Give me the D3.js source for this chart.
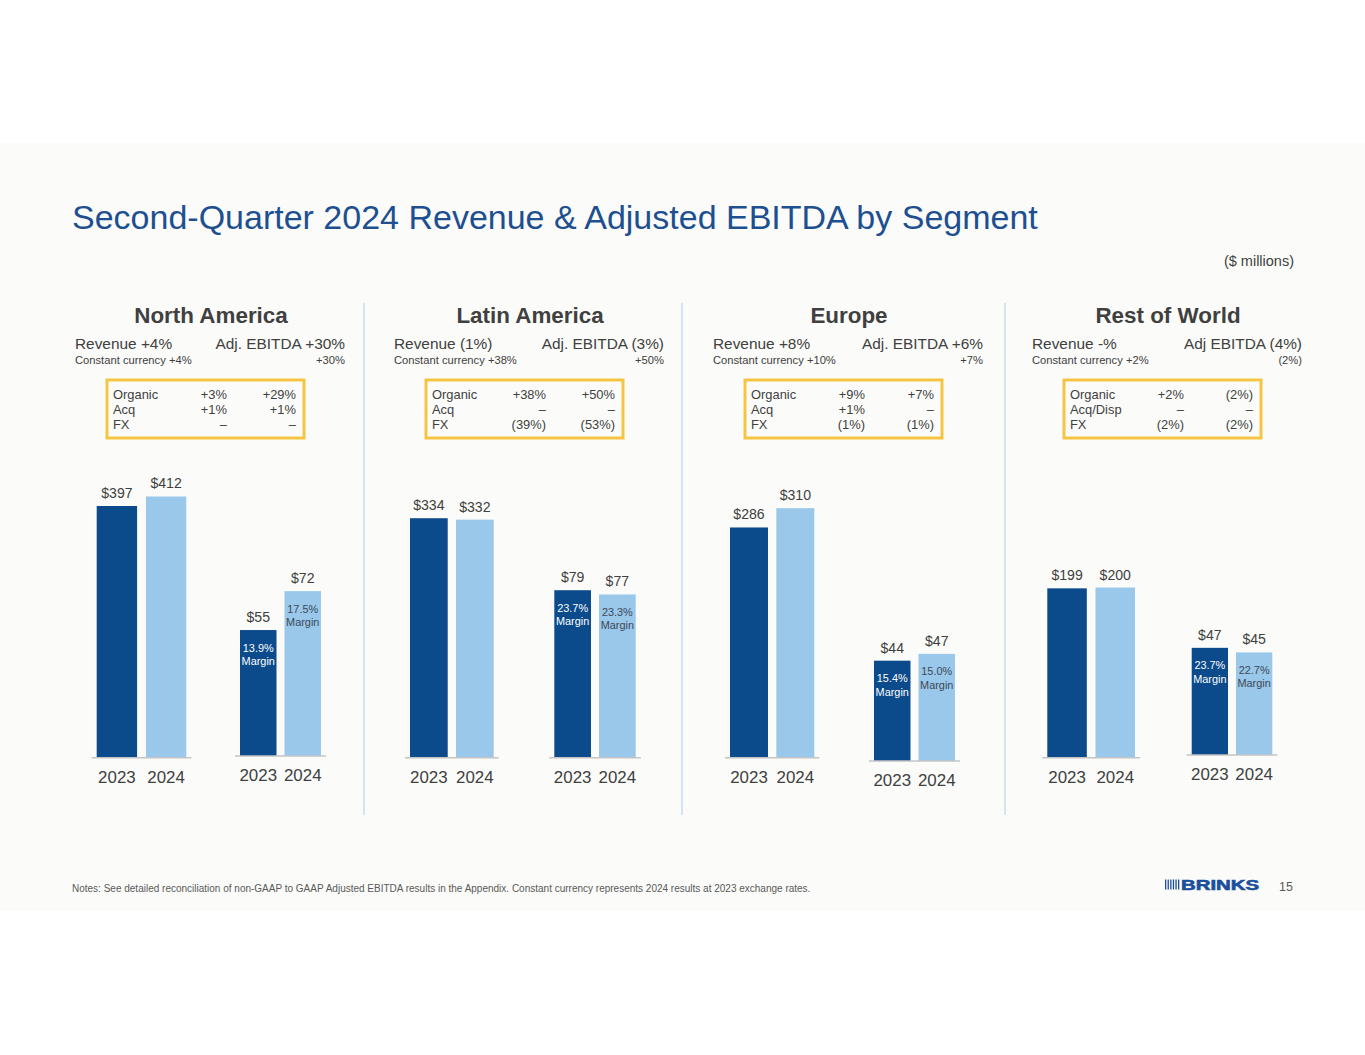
<!DOCTYPE html>
<html>
<head>
<meta charset="utf-8">
<script src="https://cdn.jsdelivr.net/npm/d3@7"></script>
<style>
  body { margin: 0; background: #ffffff; }
  svg, svg text { font-family: Arial, "Liberation Sans", Helvetica, sans-serif; }
  svg { display: block; }
</style>
</head>
<body>
<svg width="1365" height="1055"></svg>
<script>
'use strict';

// ---- data ----
var segments = ['North America', 'Latin America', 'Europe', 'Rest of World'];
var revenueHeads = ['Revenue +4%', 'Revenue (1%)', 'Revenue +8%', 'Revenue -%'];
var ebitdaHeads = ['Adj. EBITDA +30%', 'Adj. EBITDA (3%)', 'Adj. EBITDA +6%', 'Adj EBITDA (4%)'];
var ccRevenue = ['Constant currency +4%', 'Constant currency +38%', 'Constant currency +10%', 'Constant currency +2%'];
var ccEbitda = ['+30%', '+50%', '+7%', '(2%)'];
var bridgeLabels = [['Organic', 'Acq', 'FX'], ['Organic', 'Acq', 'FX'], ['Organic', 'Acq', 'FX'], ['Organic', 'Acq/Disp', 'FX']];
var bridgeRevenue = [['+3%', '+1%', '–'], ['+38%', '–', '(39%)'], ['+9%', '+1%', '(1%)'], ['+2%', '–', '(2%)']];
var bridgeEbitda = [['+29%', '+1%', '–'], ['+50%', '–', '(53%)'], ['+7%', '–', '(1%)'], ['(2%)', '–', '(2%)']];
var years = ['2023', '2024'];
var revenue = [[397, 412], [334, 332], [286, 310], [199, 200]];
var ebitda = [[55, 72], [79, 77], [44, 47], [47, 45]];
var margins = [['13.9%', '17.5%'], ['23.7%', '23.3%'], ['15.4%', '15.0%'], ['23.7%', '22.7%']];

// ---- layout ----
var DARK = '#0b4a8b', LIGHT = '#99c8ea', TEXT = '#404040';
var FONT = 'Arial, "Liberation Sans", Helvetica, sans-serif';
var panelLeft = [75, 394, 713, 1032];
var dividerX = [364, 682, 1005];
// each mini chart: x range of bars, baseline, pixels per $1m
var revLayout = [
    { x0: 96.7, x1: 186.3, base: 757.7, ppu: 0.634 },
    { x0: 410, x1: 493.7, base: 757.7, ppu: 0.717 },
    { x0: 730, x1: 814.3, base: 757.7, ppu: 0.805 },
    { x0: 1047.3, x1: 1135, base: 757.7, ppu: 0.851 }
];
var ebLayout = [
    { x0: 240, x1: 321, base: 756, ppu: 2.29 },
    { x0: 554.3, x1: 635.7, base: 757.7, ppu: 2.12 },
    { x0: 874, x1: 955, base: 761, ppu: 2.28 },
    { x0: 1191.7, x1: 1272.3, base: 755, ppu: 2.28 }
];

var canvas = d3.select('svg').attr('font-family', FONT);

canvas.append('rect')
    .attr('x', 0).attr('y', 143)
    .attr('width', 1365).attr('height', 768)
    .attr('fill', '#fbfcf9');

canvas.append('text')
    .attr('x', 72).attr('y', 229)
    .attr('font-size', 34)
    .attr('fill', '#1d4f91')
    .text('Second-Quarter 2024 Revenue & Adjusted EBITDA by Segment');

canvas.append('text')
    .attr('x', 1294).attr('y', 266)
    .attr('text-anchor', 'end')
    .attr('font-size', 14.5)
    .attr('fill', TEXT)
    .text('($ millions)');

canvas.selectAll('line.divider')
    .data(dividerX)
    .enter()
    .append('line')
    .attr('class', 'divider')
    .attr('stroke', '#c7dcef')
    .attr('stroke-width', 1.5)
    .attr('x1', function(d) { return d; })
    .attr('x2', function(d) { return d; })
    .attr('y1', 303)
    .attr('y2', 815);

function drawHeader(i) {
    var left = panelLeft[i];
    var g = canvas.append('g').attr('fill', TEXT);

    g.append('text')
        .attr('x', left + 136).attr('y', 323)
        .attr('text-anchor', 'middle')
        .attr('font-size', 22.4).attr('font-weight', 'bold')
        .text(segments[i]);

    g.append('text').attr('x', left).attr('y', 348.5)
        .attr('font-size', 15.4).text(revenueHeads[i]);
    g.append('text').attr('x', left + 270).attr('y', 348.5)
        .attr('text-anchor', 'end')
        .attr('font-size', 15.4).text(ebitdaHeads[i]);
    g.append('text').attr('x', left).attr('y', 363.5)
        .attr('font-size', 11.2).text(ccRevenue[i]);
    g.append('text').attr('x', left + 270).attr('y', 363.5)
        .attr('text-anchor', 'end')
        .attr('font-size', 11.2).text(ccEbitda[i]);

    // bridge box
    var bx = left + 32;
    g.append('rect')
        .attr('x', bx).attr('y', 380)
        .attr('width', 197).attr('height', 58)
        .attr('fill', 'none')
        .attr('stroke', '#f6c443')
        .attr('stroke-width', 3);

    var rows = g.selectAll('g.row')
        .data(bridgeLabels[i])
        .enter()
        .append('g')
        .attr('class', 'row')
        .attr('font-size', 12.9)
        .attr('transform', function(d, r) { return 'translate(0,' + (399 + r * 15) + ')'; });

    rows.append('text').attr('x', bx + 6).text(function(d) { return d; });
    rows.append('text').attr('x', bx + 120).attr('text-anchor', 'end')
        .text(function(d, r) { return bridgeRevenue[i][r]; });
    rows.append('text').attr('x', bx + 189).attr('text-anchor', 'end')
        .text(function(d, r) { return bridgeEbitda[i][r]; });
}

function drawBars(values, layout, marginText) {
    var x = d3.scaleBand()
        .domain(years)
        .range([layout.x0, layout.x1])
        .paddingInner(0.18);

    var y = d3.scaleLinear()
        .domain([0, 100])
        .range([layout.base, layout.base - 100 * layout.ppu]);

    var rows = years.map(function(yr, k) { return { year: yr, value: values[k], k: k }; });
    var chart = canvas.append('g');

    chart.selectAll('rect.bar')
        .data(rows)
        .enter()
        .append('rect')
        .attr('class', 'bar')
        .attr('x', function(d) { return x(d.year); })
        .attr('y', function(d) { return y(d.value); })
        .attr('width', x.bandwidth())
        .attr('height', function(d) { return y(0) - y(d.value); })
        .attr('fill', function(d) { return d.k === 0 ? DARK : LIGHT; });

    var axis = d3.axisBottom(x).tickSize(0).tickSizeOuter(0).tickPadding(13);
    var ax = chart.append('g')
        .attr('transform', 'translate(0,' + y(0) + ')')
        .call(axis)
        .attr('font-family', FONT);
    ax.select('.domain').remove();
    ax.selectAll('text')
        .attr('font-size', 16.9)
        .attr('fill', TEXT);
    ax.append('line')
        .attr('x1', layout.x0 - 5).attr('x2', layout.x1 + 5)
        .attr('y1', 0).attr('y2', 0)
        .attr('stroke', '#c4c4c4')
        .attr('stroke-width', 1.5);

    chart.selectAll('text.val')
        .data(rows)
        .enter()
        .append('text')
        .attr('class', 'val')
        .attr('x', function(d) { return x(d.year) + x.bandwidth() / 2; })
        .attr('y', function(d) { return y(d.value) - 8; })
        .attr('text-anchor', 'middle')
        .attr('font-size', 14.1)
        .attr('fill', TEXT)
        .text(function(d) { return '$' + d.value; });

    if (marginText) {
        var m = chart.selectAll('text.margin')
            .data(rows)
            .enter()
            .append('text')
            .attr('class', 'margin')
            .attr('text-anchor', 'middle')
            .attr('font-size', 10.9)
            .attr('fill', function(d) { return d.k === 0 ? '#ffffff' : '#3e4756'; });
        m.append('tspan')
            .attr('x', function(d) { return x(d.year) + x.bandwidth() / 2; })
            .attr('y', function(d) { return y(d.value) + 21.5; })
            .text(function(d) { return marginText[d.k]; });
        m.append('tspan')
            .attr('x', function(d) { return x(d.year) + x.bandwidth() / 2; })
            .attr('y', function(d) { return y(d.value) + 35; })
            .text('Margin');
    }
}

segments.forEach(function(seg, i) {
    drawHeader(i);
    drawBars(revenue[i], revLayout[i], null);
    drawBars(ebitda[i], ebLayout[i], margins[i]);
});

// footer
canvas.append('text')
    .attr('x', 72).attr('y', 892)
    .attr('font-size', 10)
    .attr('fill', '#595959')
    .text('Notes: See detailed reconciliation of non-GAAP to GAAP Adjusted EBITDA results in the Appendix. Constant currency represents 2024 results at 2023 exchange rates.');

var logo = canvas.append('g').attr('fill', '#1b4f9c');
logo.selectAll('rect')
    .data(d3.range(6))
    .enter()
    .append('rect')
    .attr('x', function(d) { return 1165 + d * 2.6; })
    .attr('y', 879.5)
    .attr('width', 1.3)
    .attr('height', 10);
logo.append('text')
    .attr('x', 1181).attr('y', 889.5)
    .attr('font-size', 14)
    .attr('font-weight', 'bold')
    .attr('stroke', '#1b4f9c')
    .attr('stroke-width', 0.6)
    .attr('textLength', 78)
    .attr('lengthAdjust', 'spacingAndGlyphs')
    .text('BRINKS');

canvas.append('text')
    .attr('x', 1293).attr('y', 891)
    .attr('text-anchor', 'end')
    .attr('font-size', 12.5)
    .attr('fill', '#595959')
    .text('15');
</script>
</body>
</html>
